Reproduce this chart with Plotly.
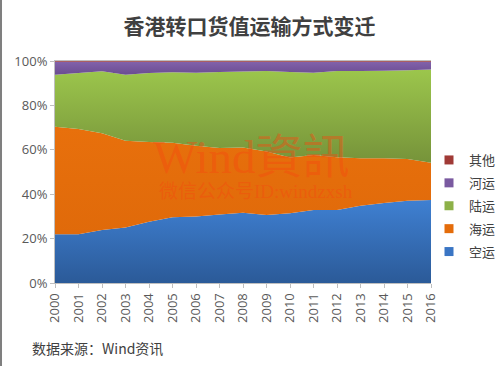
import plotly.graph_objects as go

years = list(range(2000, 2017))
year_labels = [str(y) for y in years]
pct_ticks = [0, 20, 40, 60, 80, 100]
pct_labels = ["0%", "20%", "40%", "60%", "80%", "100%"]

air = [22.0, 22.0, 23.9, 25.0, 27.6, 29.6, 29.9, 30.8, 31.7, 30.6, 31.4, 32.9, 32.9, 34.8, 36.0, 37.1, 37.4]
sea = [48.4, 47.4, 43.5, 39.1, 35.9, 33.6, 31.9, 30.0, 29.3, 28.6, 25.1, 24.8, 23.7, 21.4, 20.2, 18.8, 16.8]
land = [23.4, 25.2, 28.0, 29.7, 31.1, 31.7, 32.9, 34.2, 34.3, 36.3, 38.5, 37.0, 38.9, 39.3, 39.4, 39.9, 42.0]
river = [5.9, 5.1, 4.3, 5.9, 5.1, 4.8, 5.0, 4.7, 4.4, 4.2, 4.7, 5.0, 4.2, 4.2, 4.1, 3.9, 3.5]
other = [0.3] * 17

series_names = ["空运", "海运", "陆运", "河运", "其他"]
series_values = [air, sea, land, river, other]
legend_colors = ["#3a75c4", "#e46c0a", "#8db148", "#7a5aa0", "#a03a36"]
gradients = [
    [[0, "#2b5a98"], [1, "#3f80d2"]],
    [[0, "#e06a0a"], [1, "#e8700c"]],
    [[0, "#76933a"], [1, "#9cc64c"]],
    [[0, "#6a4c90"], [1, "#8262ab"]],
    [[0, "#943532"], [1, "#a83e3a"]],
]

fig = go.Figure()
for name, vals, grad in zip(series_names, series_values, gradients):
    fig.add_trace(go.Scatter(
        x=years, y=vals, name=name, stackgroup="one", mode="none",
        fillgradient=dict(type="vertical", colorscale=grad),
        showlegend=False, hoverinfo="skip",
    ))

# legend entries (square swatches), top to bottom
for name, col in reversed(list(zip(series_names, legend_colors))):
    fig.add_trace(go.Scatter(
        x=[None], y=[None], name=name, mode="markers", legendgroup=name,
        marker=dict(symbol="square", size=9, color=col),
    ))

axis_col = "#bfbfbf"
tick_font = dict(family="Open Sans, Noto Sans CJK SC", size=13, color="#595959")

fig.update_layout(
    width=499, height=366,
    margin=dict(l=55, r=68, t=61, b=83, autoexpand=False),
    paper_bgcolor="white", plot_bgcolor="white",
    title=dict(text="<b>香港转口货值运输方式变迁</b>", x=0.5, xanchor="center",
               y=1 - 27 / 366, yanchor="middle",
               font=dict(family="Noto Sans CJK SC", size=21, color="#404040")),
    xaxis=dict(range=[2000, 2016], tickvals=years, ticktext=year_labels, tickangle=-90,
               tickfont=tick_font, showgrid=False, zeroline=False,
               showline=True, linecolor=axis_col, linewidth=1, mirror=True,
               ticks="outside", ticklen=4, tickcolor=axis_col, automargin=False),
    yaxis=dict(range=[0, 100], tickvals=pct_ticks, ticktext=pct_labels,
               tickfont=tick_font, showgrid=False, zeroline=False,
               showline=True, linecolor=axis_col, linewidth=1,
               ticks="outside", ticklen=4, tickcolor=axis_col, automargin=False),
    legend=dict(xref="container", yref="container", x=429 / 499, xanchor="left",
                y=1 - 145 / 366, yanchor="top",
                font=dict(family="Noto Sans CJK SC", size=13, color="#404040"),
                tracegroupgap=3, bgcolor="rgba(0,0,0,0)"),
    showlegend=True,
)

fig.add_annotation(text="Wind資訊", xref="paper", yref="paper", x=0.522, y=0.5676,
                   showarrow=False, xanchor="center", yanchor="middle",
                   font=dict(family="Liberation Serif, Noto Sans CJK TC", size=47,
                             color="rgba(245,75,15,0.45)"))
fig.add_annotation(text="微信公众号ID:windzxsh", xref="paper", yref="paper", x=0.535, y=0.41,
                   showarrow=False, xanchor="center", yanchor="middle",
                   font=dict(family="Liberation Serif, Noto Sans CJK SC", size=19,
                             color="rgba(245,75,15,0.45)"))
fig.add_annotation(text="数据来源：Wind资讯", xref="paper", yref="paper", x=-0.0665, y=-0.293,
                   showarrow=False, xanchor="left", yanchor="middle",
                   font=dict(family="Noto Sans CJK SC", size=14, color="#404040"))

fig.add_shape(type="line", xref="paper", yref="paper", x0=-0.1436, x1=-0.1436,
              y0=-0.4, y1=1.3, line=dict(color="#7f7f7f", width=2))

fig.write_html("out.html", config={"displayModeBar": False},
               post_script="document.body.style.margin='0';")
